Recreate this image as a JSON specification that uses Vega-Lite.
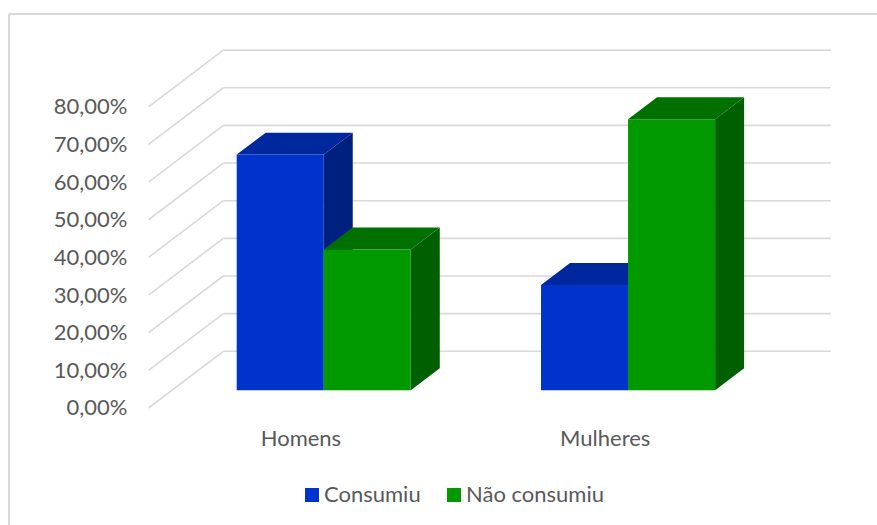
{
  "$schema": "https://vega.github.io/schema/vega-lite/v6.json",
  "width": 877,
  "height": 525,
  "padding": 0,
  "autosize": {"type": "none"},
  "background": "white",
  "config": {
    "view": {"stroke": null},
    "font": "Lato",
    "axis": {"labelFont": "Lato"},
    "legend": {"labelFont": "Lato"}
  },
  "datasets": {
    "bars": [
      {"grupo": "Homens", "g": 0, "serie": "Consumiu", "s": 0, "valor": 62.6},
      {"grupo": "Homens", "g": 0, "serie": "Não consumiu", "s": 1, "valor": 37.4},
      {"grupo": "Mulheres", "g": 1, "serie": "Consumiu", "s": 0, "valor": 28},
      {"grupo": "Mulheres", "g": 1, "serie": "Não consumiu", "s": 1, "valor": 72}
    ],
    "levels": [
      {"nivel": 0}, {"nivel": 10}, {"nivel": 20}, {"nivel": 30}, {"nivel": 40},
      {"nivel": 50}, {"nivel": 60}, {"nivel": 70}, {"nivel": 80}
    ]
  },
  "layer": [
    {
      "data": {"values": [{}]},
      "mark": {"type": "rule", "color": "#d9d9d9", "strokeWidth": 2},
      "encoding": {
        "x": {"datum": -1.034, "type": "quantitative", "scale": {"domain": [-1.0638, 1.818], "nice": false, "zero": false}, "axis": null},
        "y": {
          "datum": 104.65,
          "type": "quantitative",
          "scale": {"domain": [-31.08, 108.37], "nice": false, "zero": false},
          "axis": {
            "title": null,
            "orient": "left",
            "offset": -127,
            "values": [0, 10, 20, 30, 40, 50, 60, 70, 80],
            "domain": false,
            "ticks": false,
            "grid": false,
            "labelPadding": 0,
            "labelFontSize": 22,
            "labelColor": "#595959",
            "labelExpr": "replace(format(datum.value, '.2f'), '.', ',') + '%'"
          }
        },
        "y2": {"datum": -31.08}
      }
    },
    {
      "data": {"values": [{}]},
      "mark": {"type": "rule", "color": "#d9d9d9", "strokeWidth": 2},
      "encoding": {
        "x": {"datum": -1.034, "type": "quantitative"},
        "x2": {"datum": 1.818},
        "y": {"datum": 104.65, "type": "quantitative"}
      }
    },
    {
      "data": {"name": "levels"},
      "transform": [{"calculate": "datum.nivel + 15.06", "as": "fundo"}],
      "mark": {"type": "rule", "color": "#d9d9d9", "strokeWidth": 1.6},
      "encoding": {
        "x": {"datum": -0.5757, "type": "quantitative"},
        "x2": {"datum": -0.33},
        "y": {"field": "nivel", "type": "quantitative"},
        "y2": {"field": "fundo"}
      }
    },
    {
      "data": {"name": "levels"},
      "transform": [{"calculate": "datum.nivel + 15.06", "as": "fundo"}],
      "mark": {"type": "rule", "color": "#d9d9d9", "strokeWidth": 1.6},
      "encoding": {
        "x": {"datum": -0.33, "type": "quantitative"},
        "x2": {"datum": 1.666},
        "y": {"field": "fundo", "type": "quantitative"}
      }
    },
    {
      "data": {"name": "bars"},
      "transform": [
        {"calculate": "[0, 1]", "as": "t"},
        {"flatten": ["t"]},
        {"calculate": "datum.g + datum.s * 0.286 + datum.t * 0.0953", "as": "px"},
        {"calculate": "datum.valor + 4.7 + datum.t * 5.84", "as": "topo"},
        {"calculate": "4.7 + datum.t * 5.84", "as": "base"},
        {"calculate": "datum.grupo + datum.serie", "as": "barra"}
      ],
      "mark": {"type": "area", "orient": "vertical"},
      "encoding": {
        "x": {"field": "px", "type": "quantitative"},
        "y": {"field": "topo", "type": "quantitative"},
        "y2": {"field": "base"},
        "detail": {"field": "barra"},
        "fill": {
          "field": "serie",
          "type": "nominal",
          "legend": null,
          "scale": {"domain": ["Consumiu", "Não consumiu"], "range": ["#002080", "#006000"]}
        }
      }
    },
    {
      "data": {"name": "bars"},
      "transform": [
        {"calculate": "[0, 1]", "as": "t"},
        {"flatten": ["t"]},
        {"calculate": "datum.g - 0.286 + datum.s * 0.286 + datum.t * 0.0953", "as": "esq"},
        {"calculate": "datum.g + datum.s * 0.286 + datum.t * 0.0953", "as": "dir"},
        {"calculate": "datum.valor + 4.7 + datum.t * 5.84", "as": "topo"},
        {"calculate": "datum.grupo + datum.serie", "as": "barra"}
      ],
      "mark": {"type": "area", "orient": "horizontal"},
      "encoding": {
        "x": {"field": "esq", "type": "quantitative"},
        "x2": {"field": "dir"},
        "y": {"field": "topo", "type": "quantitative"},
        "detail": {"field": "barra"},
        "fill": {
          "field": "serie",
          "type": "nominal",
          "legend": null,
          "scale": {"domain": ["Consumiu", "Não consumiu"], "range": ["#00289e", "#007000"]}
        }
      }
    },
    {
      "data": {"name": "bars"},
      "transform": [
        {"calculate": "datum.g - 0.286 + datum.s * 0.286", "as": "esq"},
        {"calculate": "datum.g + datum.s * 0.286", "as": "dir"},
        {"calculate": "datum.valor + 4.7", "as": "topo"},
        {"calculate": "4.7", "as": "base"}
      ],
      "mark": {"type": "rect"},
      "encoding": {
        "x": {"field": "esq", "type": "quantitative"},
        "x2": {"field": "dir"},
        "y": {"field": "topo", "type": "quantitative"},
        "y2": {"field": "base"},
        "fill": {
          "field": "serie",
          "type": "nominal",
          "title": null,
          "scale": {"domain": ["Consumiu", "Não consumiu"], "range": ["#0033cc", "#009900"]},
          "legend": {
            "orient": "none",
            "legendX": 301,
            "legendY": 484,
            "direction": "horizontal",
            "columns": 2,
            "columnPadding": 22,
            "symbolType": "square",
            "symbolSize": 196,
            "symbolStrokeWidth": 0,
            "symbolOpacity": 1,
            "labelFontSize": 22,
            "labelColor": "#595959",
            "labelOffset": 1,
            "padding": 0
          }
        }
      }
    },
    {
      "data": {"name": "bars"},
      "transform": [
        {"aggregate": [{"op": "min", "field": "g", "as": "g"}], "groupby": ["grupo"]},
        {"calculate": "datum.g - 0.075", "as": "centro"},
        {"calculate": "-8.3", "as": "altura"}
      ],
      "mark": {"type": "text", "fontSize": 22, "color": "#595959", "align": "center", "baseline": "middle"},
      "encoding": {
        "x": {"field": "centro", "type": "quantitative"},
        "y": {"field": "altura", "type": "quantitative"},
        "text": {"field": "grupo"}
      }
    }
  ],
  "resolve": {"scale": {"fill": "independent"}}
}
